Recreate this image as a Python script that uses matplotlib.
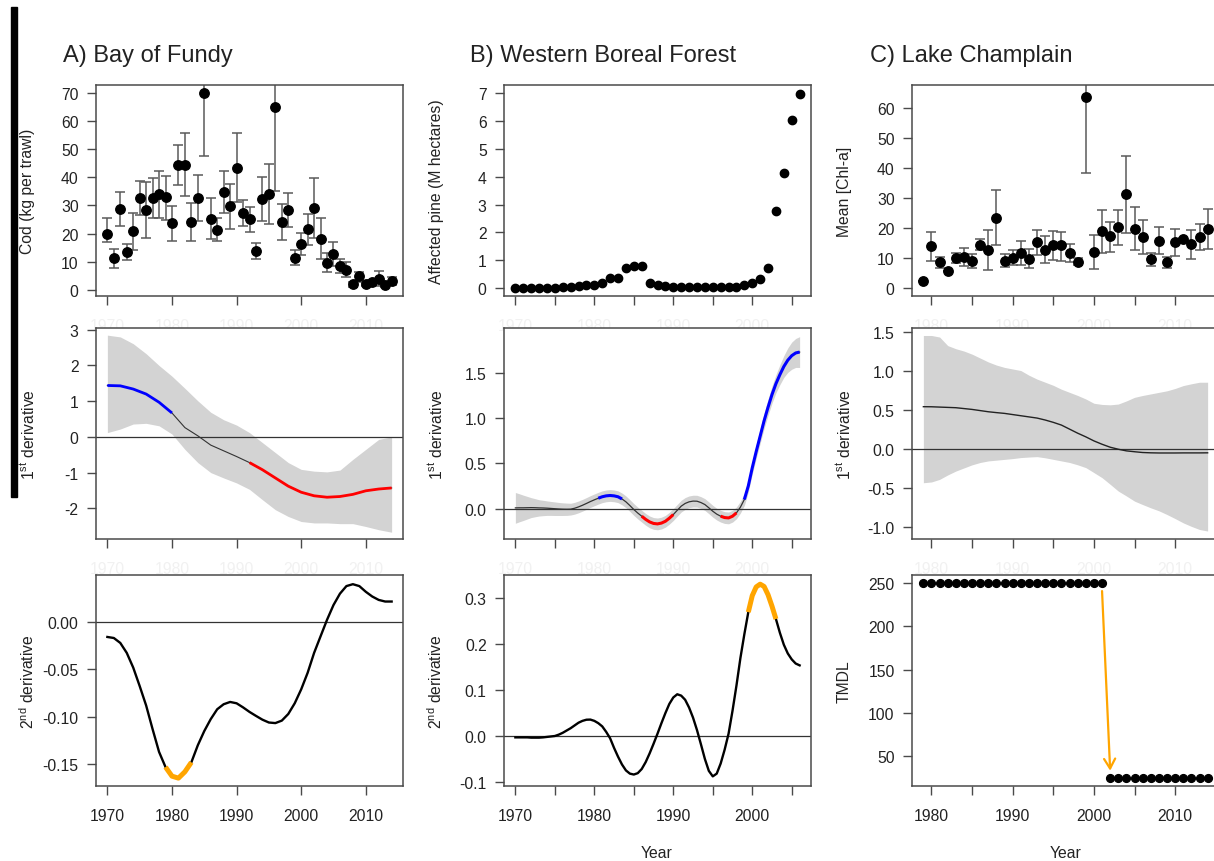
# Three case studies: raw series, 1st and 2nd derivatives of fitted trend

import matplotlib.pyplot as plt
import numpy as np
from matplotlib.patches import Rectangle

# ---- A) Bay of Fundy ----
fundy_years = np.arange(1970, 2015)
fundy_cod = [20.0, 11.2, 28.7, 13.5, 20.8, 32.5, 28.5, 32.7, 34.0, 33.0,
             23.8, 44.3, 44.5, 24.2, 32.8, 69.8, 25.3, 21.4, 34.8, 29.7,
             43.4, 27.3, 25.1, 13.9, 32.2, 34.0, 64.9, 24.2, 28.3, 11.5,
             16.4, 21.5, 29.2, 18.2, 9.6, 12.9, 8.5, 7.2, 2.0, 5.0,
             2.0, 2.7, 4.0, 1.7, 3.3]
fundy_lo = [17.1, 7.8, 22.7, 10.5, 14.3, 26.5, 18.6, 25.7, 25.7, 25.0,
            17.5, 37.2, 33.5, 17.3, 24.6, 47.5, 18.1, 17.3, 27.4, 21.8,
            31.2, 22.8, 20.6, 11.1, 24.6, 23.6, 35.3, 17.9, 22.5, 8.9,
            12.4, 16.1, 18.6, 11.1, 6.3, 8.6, 6.0, 4.6, 1.0, 3.0,
            1.3, 1.7, 1.3, 1.0, 1.9]
fundy_hi = [25.7, 14.7, 34.9, 16.5, 27.3, 38.5, 38.3, 39.6, 42.1, 40.6,
            29.9, 51.4, 55.6, 30.9, 40.8, 95.0, 32.5, 25.5, 42.2, 37.6,
            55.6, 32.0, 29.6, 16.8, 40.0, 44.6, 95.0, 30.4, 34.3, 14.3,
            20.3, 27.0, 39.8, 25.5, 13.0, 17.0, 11.1, 9.9, 3.0, 6.5,
            2.5, 3.5, 6.9, 2.4, 4.7]

fundy_d1_years = np.arange(1970, 2015, 2)
fundy_d1 = [1.44, 1.43, 1.34, 1.20, 0.97, 0.67, 0.26, 0.03, -0.23, -0.39,
            -0.55, -0.72, -0.92, -1.15, -1.38, -1.55, -1.65, -1.69, -1.67,
            -1.61, -1.51, -1.46, -1.43]
fundy_d1_hi = [2.85, 2.80, 2.61, 2.33, 2.00, 1.70, 1.36, 1.01, 0.69, 0.48,
               0.33, 0.12, -0.16, -0.44, -0.72, -0.91, -0.96, -0.98, -0.93,
               -0.63, -0.35, -0.07, 0.00]
fundy_d1_lo = [0.12, 0.22, 0.36, 0.38, 0.31, 0.08, -0.35, -0.72, -1.00, -1.15,
               -1.29, -1.47, -1.76, -2.04, -2.23, -2.37, -2.41, -2.41, -2.43,
               -2.43, -2.51, -2.60, -2.67]

fundy_d2 = [-0.0157, -0.0168, -0.022, -0.0325, -0.048, -0.0675, -0.088, -0.113, -0.137, -0.153,
            -0.1626, -0.1647, -0.158, -0.148, -0.130, -0.115, -0.1024, -0.092, -0.0867, -0.0843,
            -0.0857, -0.090, -0.0948, -0.099, -0.103, -0.106, -0.1066, -0.104, -0.097, -0.0857,
            -0.071, -0.0535, -0.0325, -0.015, 0.0024, 0.018, 0.030, 0.038, 0.040, 0.038,
            0.032, 0.027, 0.0234, 0.0217, 0.0217]

# ---- B) Western Boreal Forest ----
boreal_years = np.arange(1970, 2007)
boreal_pine = [0, 0, 0, 0, 0, 0, 0.02, 0.05, 0.07, 0.10,
               0.10, 0.19, 0.37, 0.34, 0.71, 0.79, 0.79, 0.19, 0.10, 0.07,
               0.05, 0.05, 0.05, 0.05, 0.05, 0.05, 0.05, 0.02, 0.02, 0.10,
               0.17, 0.31, 0.72, 2.75, 4.15, 6.04, 6.99]

# derivatives read every half year
boreal_d_years = np.arange(1970, 2006.5, 0.5)
boreal_d1 = [0.007, 0.008, 0.008, 0.009, 0.010, 0.009, 0.007, 0.006, 0.004, 0.001,
             -0.002, -0.005, -0.007, -0.008, -0.007, 0.003, 0.018, 0.036, 0.056, 0.077,
             0.096, 0.114, 0.130, 0.140, 0.144, 0.140, 0.130, 0.106, 0.074, 0.033,
             -0.011, -0.050, -0.085, -0.120, -0.148, -0.165, -0.170, -0.161, -0.141, -0.107,
             -0.067, -0.020, 0.026, 0.056, 0.074, 0.082, 0.081, 0.066, 0.044, 0.008,
             -0.030, -0.062, -0.085, -0.100, -0.104, -0.085, -0.048, 0.015, 0.100, 0.250,
             0.450, 0.630, 0.800, 0.970, 1.120, 1.260, 1.380, 1.480, 1.570, 1.640,
             1.690, 1.720, 1.730]
boreal_d1_se = [0.17, 0.155, 0.14, 0.125, 0.11, 0.10, 0.09, 0.085, 0.08, 0.077,
                0.075, 0.072, 0.07, 0.068, 0.065, 0.065, 0.065, 0.065, 0.065, 0.065,
                0.065, 0.065, 0.065, 0.065, 0.065, 0.065, 0.065, 0.065, 0.065, 0.065,
                0.065, 0.065, 0.065, 0.065, 0.065, 0.065, 0.065, 0.065, 0.065, 0.065,
                0.065, 0.065, 0.065, 0.065, 0.065, 0.065, 0.065, 0.065, 0.065, 0.065,
                0.065, 0.065, 0.065, 0.065, 0.065, 0.065, 0.065, 0.065, 0.065, 0.067,
                0.07, 0.075, 0.08, 0.085, 0.09, 0.095, 0.10, 0.11, 0.12, 0.135,
                0.15, 0.16, 0.17]
boreal_d2 = [-0.003, -0.003, -0.003, -0.003, -0.0036, -0.0036, -0.0036, -0.003, -0.002, -0.001,
             0.000, 0.003, 0.007, 0.012, 0.017, 0.023, 0.029, 0.033, 0.0355, 0.0358,
             0.033, 0.028, 0.021, 0.009, -0.005, -0.026, -0.045, -0.062, -0.075, -0.082,
             -0.084, -0.081, -0.072, -0.057, -0.038, -0.017, 0.005, 0.028, 0.050, 0.070,
             0.084, 0.091, 0.088, 0.079, 0.062, 0.040, 0.013, -0.018, -0.050, -0.076,
             -0.088, -0.082, -0.060, -0.030, 0.005, 0.055, 0.110, 0.170, 0.222, 0.270,
             0.306, 0.325, 0.331, 0.326, 0.308, 0.283, 0.255, 0.225, 0.199, 0.180,
             0.167, 0.158, 0.154]

# ---- C) Lake Champlain ----
champ_years = np.arange(1979, 2015)
champ_chla = [2.4, 13.9, 8.5, 5.6, 10.1, 10.2, 8.9, 14.2, 12.7, 23.3,
              9.0, 10.1, 11.6, 9.8, 15.2, 12.6, 14.3, 14.3, 11.6, 8.8,
              63.9, 12.0, 18.9, 17.4, 20.3, 31.3, 19.7, 16.9, 9.5, 15.7,
              8.5, 15.3, 16.3, 14.6, 17.0, 19.6]
champ_lo = [2.4, 9.0, 6.7, 5.6, 8.2, 7.2, 6.7, 12.7, 5.9, 14.3,
            7.0, 7.7, 7.6, 6.6, 11.1, 8.2, 9.3, 9.0, 8.7, 7.6,
            38.5, 6.2, 11.8, 12.1, 14.4, 18.5, 12.6, 11.5, 7.4, 11.2,
            6.6, 10.7, 15.8, 9.8, 12.6, 12.9]
champ_hi = [2.4, 18.8, 10.4, 5.6, 11.8, 13.4, 11.2, 16.3, 19.5, 32.6,
            11.2, 12.7, 15.6, 12.9, 19.4, 17.2, 19.0, 18.7, 14.6, 10.1,
            80.0, 17.8, 26.0, 22.0, 26.0, 44.1, 26.9, 22.6, 11.6, 20.3,
            10.3, 19.6, 16.8, 19.3, 21.5, 26.5]
champ_d1 = [0.546, 0.545, 0.541, 0.537, 0.533, 0.522, 0.511, 0.496, 0.481, 0.470,
            0.460, 0.445, 0.430, 0.415, 0.400, 0.375, 0.345, 0.310, 0.258, 0.206,
            0.159, 0.107, 0.064, 0.026, 0.000, -0.021, -0.032, -0.042, -0.046, -0.048,
            -0.048, -0.048, -0.047, -0.047, -0.047, -0.046]
champ_d1_hi = [1.46, 1.46, 1.44, 1.33, 1.29, 1.26, 1.22, 1.17, 1.12, 1.08,
               1.05, 1.03, 1.01, 0.95, 0.90, 0.86, 0.82, 0.77, 0.73, 0.69,
               0.645, 0.59, 0.575, 0.57, 0.58, 0.62, 0.666, 0.69, 0.71, 0.73,
               0.75, 0.78, 0.817, 0.84, 0.86, 0.86]
champ_d1_lo = [-0.43, -0.42, -0.387, -0.33, -0.28, -0.24, -0.20, -0.17, -0.15, -0.14,
               -0.13, -0.12, -0.107, -0.10, -0.095, -0.11, -0.13, -0.15, -0.17, -0.20,
               -0.236, -0.30, -0.365, -0.45, -0.537, -0.60, -0.666, -0.71, -0.752, -0.79,
               -0.838, -0.89, -0.945, -0.99, -1.03, -1.05]
champ_tmdl = [250, 250, 250, 250, 250, 250, 250, 250, 250, 250,
              250, 250, 250, 250, 250, 250, 250, 250, 250, 250,
              250, 250, 250, 25, 25, 25, 25, 25, 25, 25,
              25, 25, 25, 25, 25, 25]

# ---- look ----
W, H = 1214, 862
PW = 307
FS = 11.3
TEXT = '#222222'
EDGE = '#4a4a4a'
GHOST = '#f1f1f1'
BAND = '#d3d3d3'
ERR = '#5a5a5a'


def main():
    plt.rcParams['font.family'] = 'Liberation Sans'
    plt.rcParams['mathtext.fontset'] = 'custom'
    plt.rcParams['mathtext.rm'] = 'Liberation Sans'
    plt.rcParams['mathtext.it'] = 'Liberation Sans:italic'
    plt.rcParams['axes.unicode_minus'] = False

    fig = plt.figure(figsize=(W / 100, H / 100), dpi=100)

    draw_fundy(fig)
    draw_boreal(fig)
    draw_champlain(fig)

    # titles
    fig.text(63 / W, 1 - 62 / H, 'A) Bay of Fundy', fontsize=17, color=TEXT)
    fig.text(470 / W, 1 - 62 / H, 'B) Western Boreal Forest', fontsize=17, color=TEXT)
    fig.text(870 / W, 1 - 62 / H, 'C) Lake Champlain', fontsize=17, color=TEXT)
    fig.text(657 / W, 1 - 854 / H, 'Year', fontsize=FS, color=TEXT, ha='center', va='center')
    fig.text(1066 / W, 1 - 854 / H, 'Year', fontsize=FS, color=TEXT, ha='center', va='center')

    # black bar on the left edge
    fig.add_artist(Rectangle((11 / W, 1 - 498 / H), 6 / W, 490 / H,
                             transform=fig.transFigure, color='black'))

    fig.savefig('out.png', dpi=100)


def panel(fig, left, top):
    return fig.add_axes([left / W, 1 - (top + 211) / H, PW / W, 211 / H])


def style(ax, xlim, xticks, xlabels, ylim, yticks, ylabels, ylabel, xcolor):
    ax.set_xlim(*xlim)
    ax.set_ylim(*ylim)
    ax.set_xticks(xticks)
    ax.set_xticklabels(xlabels)
    ax.set_yticks(yticks)
    ax.set_yticklabels(ylabels)
    for sp in ax.spines.values():
        sp.set_color(EDGE)
        sp.set_linewidth(1.1)
    ax.tick_params(length=6.5, width=1.0, color=EDGE, labelsize=FS, labelcolor=TEXT)
    ax.tick_params(axis='x', pad=9.5, labelcolor=xcolor)
    ax.tick_params(axis='y', pad=6)
    ax.set_ylabel(ylabel, fontsize=FS, color=TEXT)
    ax.yaxis.set_label_coords(-68 / PW, 0.5)
    ax.yaxis.label.set_va('center')


def seg(ax, x, y, start, end, color, lw):
    x = np.asarray(x)
    y = np.asarray(y)
    m = (x >= start) & (x <= end)
    ax.plot(x[m], y[m], color=color, lw=lw, solid_capstyle='butt', zorder=4)


def points(ax, x, y, lo, hi, ms):
    y = np.asarray(y)
    err = [y - np.asarray(lo), np.asarray(hi) - y]
    ax.errorbar(x, y, yerr=err, fmt='none', ecolor=ERR, elinewidth=1.1,
                capsize=3.5, capthick=1.1, zorder=2)
    ax.plot(x, y, 'o', color='black', ms=ms, zorder=3)


def draw_fundy(fig):
    xlim = (1968.24, 2015.76)
    xt = [1970, 1980, 1990, 2000, 2010]
    xl = [str(t) for t in xt]

    ax = panel(fig, 96, 86)
    points(ax, fundy_years, fundy_cod, fundy_lo, fundy_hi, 6.8)
    style(ax, xlim, xt, xl, (-2.1, 72.7), range(0, 71, 10),
          [str(v) for v in range(0, 71, 10)], 'Cod (kg per trawl)', GHOST)

    ax = panel(fig, 96, 329)
    ax.fill_between(fundy_d1_years, fundy_d1_lo, fundy_d1_hi, color=BAND, lw=0)
    ax.axhline(0, color='#333333', lw=0.9)
    ax.plot(fundy_d1_years, fundy_d1, color='#333333', lw=0.8, zorder=3)
    seg(ax, fundy_d1_years, fundy_d1, 1970, 1980, 'blue', 2.0)
    seg(ax, fundy_d1_years, fundy_d1, 1992, 2014, 'red', 2.0)
    style(ax, xlim, xt, xl, (-2.86, 3.05), range(-2, 4),
          [str(v) for v in range(-2, 4)], '1$^{\\mathrm{st}}$ derivative', GHOST)

    ax = panel(fig, 96, 576)
    ax.axhline(0, color='#333333', lw=0.9)
    ax.plot(fundy_years, fundy_d2, color='black', lw=1.7, zorder=3)
    seg(ax, fundy_years, fundy_d2, 1979, 1983, '#FFA500', 3.6)
    style(ax, xlim, xt, xl, (-0.173, 0.0497), [-0.15, -0.10, -0.05, 0.0],
          ['-0.15', '-0.10', '-0.05', '0.00'], '2$^{\\mathrm{nd}}$ derivative', TEXT)


def draw_boreal(fig):
    xlim = (1968.56, 2007.44)
    xt = list(range(1970, 2006, 5))
    xl = [str(t) if t % 10 == 0 else '' for t in xt]

    ax = panel(fig, 504, 86)
    ax.plot(boreal_years, boreal_pine, 'o', color='black', ms=6.0, zorder=3)
    style(ax, xlim, xt, xl, (-0.29, 7.30), range(0, 8),
          [str(v) for v in range(0, 8)], 'Affected pine (M hectares)', GHOST)

    ax = panel(fig, 504, 329)
    d1 = np.asarray(boreal_d1)
    se = np.asarray(boreal_d1_se)
    ax.fill_between(boreal_d_years, d1 - se, d1 + se, color=BAND, lw=0)
    ax.axhline(0, color='#333333', lw=0.9)
    ax.plot(boreal_d_years, d1, color='#333333', lw=0.9, zorder=3)
    seg(ax, boreal_d_years, d1, 1980.5, 1983.5, 'blue', 2.2)
    seg(ax, boreal_d_years, d1, 1986, 1990, 'red', 2.2)
    seg(ax, boreal_d_years, d1, 1996, 1998, 'red', 2.2)
    seg(ax, boreal_d_years, d1, 1999, 2006, 'blue', 2.2)
    style(ax, xlim, xt, xl, (-0.337, 1.996), [0, 0.5, 1.0, 1.5],
          ['0.0', '0.5', '1.0', '1.5'], '1$^{\\mathrm{st}}$ derivative', GHOST)

    ax = panel(fig, 504, 576)
    ax.axhline(0, color='#333333', lw=0.9)
    ax.plot(boreal_d_years, boreal_d2, color='black', lw=1.7, zorder=3)
    seg(ax, boreal_d_years, boreal_d2, 1999.5, 2003, '#FFA500', 3.6)
    style(ax, xlim, xt, xl, (-0.109, 0.351), [-0.1, 0.0, 0.1, 0.2, 0.3],
          ['-0.1', '0.0', '0.1', '0.2', '0.3'], '2$^{\\mathrm{nd}}$ derivative', TEXT)


def draw_champlain(fig):
    xlim = (1977.6, 2015.4)
    xt = list(range(1980, 2016, 5))
    xl = [str(t) if t % 10 == 0 else '' for t in xt]

    ax = panel(fig, 912, 86)
    points(ax, champ_years, champ_chla, champ_lo, champ_hi, 6.8)
    style(ax, xlim, xt, xl, (-2.7, 67.8), range(0, 61, 10),
          [str(v) for v in range(0, 61, 10)], 'Mean [Chl-a]', GHOST)

    ax = panel(fig, 912, 329)
    ax.fill_between(champ_years, champ_d1_lo, champ_d1_hi, color=BAND, lw=0)
    ax.axhline(0, color='#333333', lw=0.9)
    ax.plot(champ_years, champ_d1, color='#222222', lw=1.0, zorder=3)
    style(ax, xlim, xt, xl, (-1.152, 1.556), [-1.0, -0.5, 0.0, 0.5, 1.0, 1.5],
          ['-1.0', '-0.5', '0.0', '0.5', '1.0', '1.5'], '1$^{\\mathrm{st}}$ derivative', GHOST)

    ax = panel(fig, 912, 576)
    ax.plot(champ_years, champ_tmdl, 'o', color='black', ms=5.6, zorder=3)
    ax.annotate('', xy=(2002, 33), xytext=(2001, 241),
                arrowprops=dict(arrowstyle='->,head_length=0.7,head_width=0.4',
                                color='#FFA500', lw=1.6, shrinkA=0, shrinkB=0))
    style(ax, xlim, xt, xl, (15.3, 259.6), [50, 100, 150, 200, 250],
          ['50', '100', '150', '200', '250'], 'TMDL', TEXT)


if __name__ == "__main__":
    main()
